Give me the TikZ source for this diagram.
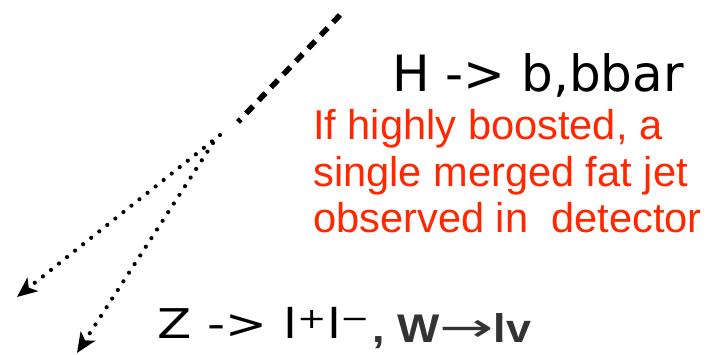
\documentclass[tikz,border=0pt]{standalone}
\usepackage{fontspec}
\usepackage{graphicx}
\setmainfont{Liberation Sans}
\newfontfamily\comicfont{DejaVu Sans}
\usetikzlibrary{arrows.meta}
\definecolor{boostred}{RGB}{255,38,0}
\definecolor{wgray}{RGB}{51,51,51}
\tikzset{
  higgsline/.style={line width=5.5pt,dash pattern=on 10pt off 8pt},
  lepline/.style={line width=4.2pt,line cap=round,dash pattern=on 0pt off 10.3pt,
    -{Stealth[length=20pt,width=17pt,inset=5pt]}},
  lbl/.style={anchor=base west,inner sep=0pt},
}
\begin{document}
\begin{tikzpicture}[x=1pt,y=-1pt]
  \useasboundingbox (0,0) rectangle (711,355);
  % Higgs leg and the two leptons coming out of the decay point.
  \coordinate (hstart) at (340,15);
  \coordinate (hend) at (238,122);
  \coordinate (lone) at (220,135);
  \coordinate (ltwo) at (213,143);
  \coordinate (lonetip) at (17,297);
  \coordinate (ltwotip) at (77,353);
  \draw[higgsline] (hstart) -- (hend);
  \draw[lepline] (lone) -- (lonetip);
  \draw[lepline] (ltwo) -- (ltwotip);

  % Labels.
  \node[lbl,font=\comicfont\fontsize{50}{50}\selectfont] (hlabel) at (392,92)
    {H -> b,bbar};
  \node[lbl,align=left,text=boostred,font=\fontsize{41.6}{46.5}\selectfont] (boost)
    at (313,233) {If highly boosted, a\\ single merged fat jet\\ observed in \ detector};
  \node[lbl,font=\comicfont\fontsize{41}{41}\selectfont] (zlabel) at (157,338)
    {\scalebox{1.22}[1]{Z -> l\textsuperscript{+}l\textsuperscript{−}}};
  \node[lbl,text=wgray,font=\fontsize{40}{40}\selectfont\bfseries] (wlabel) at (372,342)
    {\scalebox{1.12}[1]{, W\raisebox{1pt}{\scalebox{1.45}[1]{\comicfont\mdseries →}}lv}};
\end{tikzpicture}
\end{document}
